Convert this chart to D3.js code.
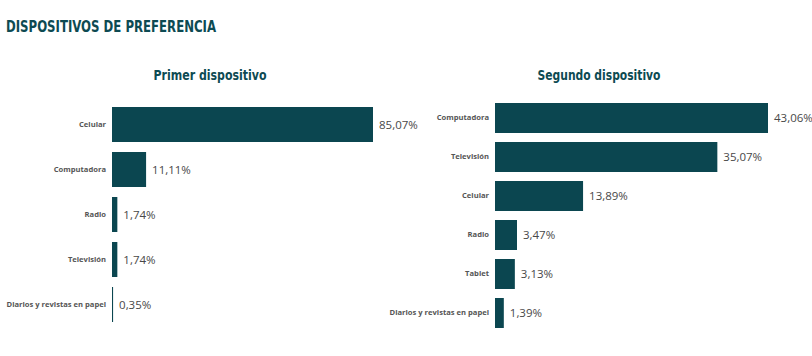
<!DOCTYPE html>
<html><head><meta charset="utf-8">
<script src="https://cdn.jsdelivr.net/npm/d3@7"></script>
<style>
html,body{margin:0;padding:0;background:#fff;}
svg{display:block;}
</style></head>
<body>
<svg id="c" width="812" height="356"></svg>
<script>
const pageTitle = "DISPOSITIVOS DE PREFERENCIA";
const leftTitle = "Primer dispositivo";
const leftCategories = ["Celular","Computadora","Radio","Televisión","Diarios y revistas en papel"];
const leftValues = [85.07, 11.11, 1.74, 1.74, 0.35];
const rightTitle = "Segundo dispositivo";
const rightCategories = ["Computadora","Televisión","Celular","Radio","Tablet","Diarios y revistas en papel"];
const rightValues = [43.06, 35.07, 13.89, 3.47, 3.13, 1.39];

const barColor = "#0b4650";
const titleColor = "#0d4a52";
const fmt = v => v.toFixed(2).replace(".", ",") + "%";

const svg = d3.select("#c");
svg.append("text").attr("x", 6).attr("y", 32)
  .attr("font-family", "'DejaVu Sans Condensed', 'DejaVu Sans', sans-serif")
  .attr("font-weight", "bold").attr("font-size", 15).attr("fill", titleColor)
  .attr("textLength", 210).attr("lengthAdjust", "spacingAndGlyphs")
  .text(pageTitle);

function drawChart(cfg) {
  const g = svg.append("g");
  g.append("text").attr("x", cfg.titleX).attr("y", 80).attr("text-anchor", "middle")
    .attr("font-family", "'DejaVu Sans Condensed', 'DejaVu Sans', sans-serif")
    .attr("font-weight", "bold").attr("font-size", 14).attr("fill", titleColor)
    .attr("textLength", cfg.titleLen).attr("lengthAdjust", "spacingAndGlyphs")
    .text(cfg.title);
  const y = d3.scaleBand().domain(cfg.cats).range(cfg.yRange)
    .paddingInner(cfg.padInner).paddingOuter(0);
  const x = d3.scaleLinear().domain([0, d3.max(cfg.vals)]).range(cfg.xRange);
  const data = cfg.cats.map((c, i) => ({c, v: cfg.vals[i]}));
  g.selectAll("rect").data(data).join("rect")
    .attr("x", x(0)).attr("y", d => y(d.c))
    .attr("width", d => Math.max(1, x(d.v) - x(0))).attr("height", y.bandwidth())
    .attr("fill", barColor);
  const axis = d3.axisLeft(y).tickSize(0).tickPadding(6);
  const ax = g.append("g").attr("transform", `translate(${x(0)},0)`).call(axis);
  ax.select(".domain").remove();
  ax.selectAll("text").attr("font-family", "'Open Sans', sans-serif")
    .attr("font-weight", "bold").attr("font-size", 7.6).attr("fill", "#555");
  g.selectAll("text.val").data(data).join("text").attr("class", "val")
    .attr("x", d => Math.max(x(d.v), x(0) + 1) + 6)
    .attr("y", d => y(d.c) + y.bandwidth() / 2).attr("dy", "0.35em")
    .attr("font-family", "'Open Sans', sans-serif").attr("font-size", 11.5)
    .attr("fill", "#484848").text(d => fmt(d.v));
}

drawChart({title: leftTitle, titleX: 210, titleLen: 113, cats: leftCategories, vals: leftValues,
  yRange: [107, 322], padInner: 10/45, xRange: [112, 373]});
drawChart({title: rightTitle, titleX: 599, titleLen: 123, cats: rightCategories, vals: rightValues,
  yRange: [103, 328], padInner: 9/39, xRange: [495, 768]});
</script>
</body></html>
